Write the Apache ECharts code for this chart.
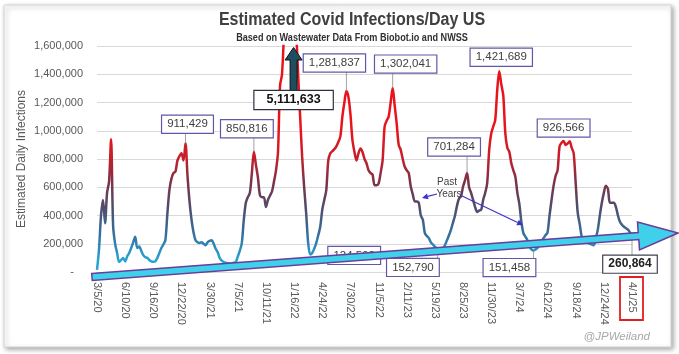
<!DOCTYPE html>
<html>
<head>
<meta charset="utf-8">
<script src="https://cdn.jsdelivr.net/npm/echarts@6/dist/echarts.min.js"></script>
<style>
  html, body { margin: 0; padding: 0; background: #fff; }
  #chart { width: 679px; height: 354px; }
</style>
</head>
<body>
<div id="chart"></div>
<script>
// x tick labels, one every 14 weeks (3/5/20 ... 4/1/25)
const tickLabels = ['3/5/20', '6/10/20', '9/16/20', '12/22/20', '3/30/21', '7/5/21', '10/11/21',
  '1/16/22', '4/24/22', '7/30/22', '11/5/22', '2/11/23', '5/19/23', '8/25/23', '11/30/23',
  '3/7/24', '6/12/24', '9/18/24', '12/24/24', '4/1/25']

// weekly estimated infections, in thousands (week 0 = 3/5/20)
const infectionsK = [
  15, 160, 400, 510, 345, 560, 640, 940, 330, 200, 135, 70, 85, 100,
  75, 110, 135, 170, 210, 250, 170, 180, 150, 120, 105, 100, 85, 75,
  72, 75, 100, 135, 170, 195, 225, 415, 580, 660, 700, 710, 790, 820,
  840, 790, 911.429, 680, 500, 370, 280, 225, 210, 205, 210, 200, 190, 210,
  220, 225, 200, 165, 140, 100, 80, 70, 65, 62, 60, 62, 66, 70,
  110, 150, 205, 370, 490, 530, 560, 700, 850.816, 760, 670, 545, 530, 530,
  460, 510, 540, 570, 640, 720, 850, 1320, 1400, 1750, 2800, 4300, 5111.633, 4000,
  2600, 1750, 1400, 1100, 815, 600, 415, 205, 124.592, 135, 165, 205, 260, 320,
  440, 510, 580, 790, 840, 855, 870, 890, 920, 960, 1100, 1200, 1281.837, 1240,
  1120, 935, 850, 790, 840, 875, 850, 800, 770, 720, 700, 690, 615, 615,
  625, 700, 790, 1030, 1070, 1100, 1200, 1302.041, 1180, 1050, 900, 865, 800, 745,
  720, 700, 605, 550, 500, 500, 490, 400, 370, 275, 255, 240, 210, 195,
  180, 165, 152.79, 158, 165, 190, 225, 260, 300, 350, 400, 470, 520, 535,
  605, 650, 701.284, 600, 560, 510, 460, 425, 435, 440, 510, 560, 630, 865,
  980, 1030, 1075, 1290, 1421.689, 1330, 1250, 985, 880, 850, 770, 720, 675, 560,
  480, 355, 275, 250, 225, 180, 160, 151.458, 160, 170, 195, 215, 240, 260,
  280, 400, 510, 610, 680, 720, 890, 915, 926.566, 900, 910, 925, 880, 840,
  630, 420, 340, 250, 225, 210, 205, 200, 195, 190, 240, 300, 400, 490,
  560, 610, 590, 490, 490, 490, 460, 400, 355, 335, 320, 310, 300, 280,
  260.864
]

// weeks that get a value callout
const calloutWeeks = [44, 78, 124, 147, 184, 200, 232, 106, 170, 217, 266]
const bigPeakWeek = 96

const FONT = '"Liberation Sans", Arial, sans-serif'

const chart = echarts.init(document.getElementById('chart'))

const fmt = v => Math.round(v).toLocaleString('en-US')

chart.setOption({
  animation: false,
  grid: { left: 97, right: 47, top: 46, bottom: 82 },
  visualMap: {
    show: false,
    type: 'continuous',
    seriesIndex: 0,
    dimension: 1,
    min: 80000,
    max: 1000000,
    inRange: { color: ['#26a4d6', '#3570a0', '#4e4e6e', '#7a3348', '#c81e2a', '#e8141c'] }
  },
  xAxis: {
    type: 'value',
    min: 0,
    max: 266,
    interval: 14,
    axisLine: { show: true, lineStyle: { color: '#d9d9d9' } },
    axisTick: { show: false },
    splitLine: { show: false },
    axisLabel: {
      rotate: -90,
      margin: 10,
      color: '#595959',
      fontSize: 11,
      fontFamily: FONT,
      showMinLabel: true,
      showMaxLabel: true,
      formatter: v => tickLabels[Math.round(v / 14)] || ''
    }
  },
  yAxis: {
    type: 'value',
    min: 0,
    max: 1600000,
    interval: 200000,
    name: 'Estimated Daily Infections',
    nameLocation: 'middle',
    nameGap: 69,
    nameMoveOverlap: false,
    nameTextStyle: { color: '#595959', fontSize: 12, fontFamily: FONT },
    axisLine: { show: false },
    axisTick: { show: false },
    splitLine: { lineStyle: { color: '#d9d9d9' } },
    axisLabel: {
      margin: 14,
      color: '#595959',
      fontSize: 11,
      fontFamily: FONT,
      formatter: v => v === 0 ? '-   ' : fmt(v)
    }
  },
  series: [{
    type: 'line',
    data: infectionsK.map((v, i) => [i, v * 1000]),
    smooth: 0.3,
    symbol: 'none',
    clip: true,
    lineStyle: { width: 2.5 }
  }]
})

// ---- annotations ----
const g = []

// frame with shadow
g.push({
  type: 'rect', z: -100,
  shape: { x: 4, y: 5, width: 667, height: 342 },
  style: { fill: '#fff', stroke: '#d4d4d4', lineWidth: 1, shadowBlur: 5, shadowOffsetX: 2, shadowOffsetY: 2, shadowColor: 'rgba(0,0,0,0.35)' }
})

g.push({
  type: 'text', z: 20, x: 352, y: 20, scaleX: 0.89,
  style: { text: 'Estimated Covid Infections/Day US', font: 'bold 18px ' + FONT, fill: '#404040', align: 'center', textAlign: 'center', verticalAlign: 'middle', textVerticalAlign: 'middle' }
})
g.push({
  type: 'text', z: 20, x: 352, y: 38, scaleX: 0.91,
  style: { text: 'Based on Wastewater Data From Biobot.io and NWSS', font: 'bold 10px ' + FONT, fill: '#303030', align: 'center', textAlign: 'center', verticalAlign: 'middle', textVerticalAlign: 'middle' }
})

// offsets of the callout boxes from their points
const boxOffset = {
  44: [2, -19], 78: [-7, -23], 124: [-12, -28], 147: [13, -24], 184: [-13, -26],
  200: [2, -14], 232: [0, -13], 106: [44, 1], 170: [-26, 17], 217: [-24, 17], 266: [-2, 29]
}
const noLeader = { 200: true, 232: true, 106: true }

calloutWeeks.forEach(w => {
  const v = infectionsK[w] * 1000
  const p = chart.convertToPixel({ gridIndex: 0 }, [w, v])
  const off = boxOffset[w]
  const cx = p[0] + off[0]
  const cy = p[1] + off[1]
  const text = fmt(v)
  const bold = w === 266
  const hw = text.length * 3.2 + 5
  if (!noLeader[w]) {
    const sx = Math.min(Math.max(p[0], cx - hw + 3), cx + hw - 3)
    const sy = off[1] < 0 ? cy + 9 : cy - 9
    g.push({
      type: 'line', z: 19,
      shape: { x1: sx, y1: sy, x2: p[0], y2: p[1] },
      style: { stroke: '#8a8a8a', lineWidth: 0.8 }
    })
  }
  g.push({
    type: 'text', z: 20, x: cx, y: cy,
    style: {
      text, font: (bold ? 'bold 12px ' : '11.5px ') + FONT, fill: bold ? '#202020' : '#404040',
      align: 'center', textAlign: 'center', verticalAlign: 'middle', textVerticalAlign: 'middle',
      backgroundColor: '#fff', borderColor: bold ? '#404050' : '#5f58a6', borderWidth: 1.2,
      padding: [3, 5, 2, 5]
    }
  })
})

// the off-scale peak: arrow + box
const pk = chart.convertToPixel({ gridIndex: 0 }, [bigPeakWeek, 0])
const ax = pk[0] + 3.5
g.push({
  type: 'polygon', z: 21,
  shape: { points: [[ax - 3.5, 92], [ax - 3.5, 60], [ax - 8.5, 60], [ax, 47.5], [ax + 8.5, 60], [ax + 3.5, 60], [ax + 3.5, 92]] },
  style: { fill: '#1e4f60', stroke: '#111', lineWidth: 1 }
})
g.push({
  type: 'text', z: 22, x: ax, y: 100,
  style: {
    text: fmt(infectionsK[bigPeakWeek] * 1000), font: 'bold 12.5px ' + FONT, fill: '#111',
    align: 'center', textAlign: 'center', verticalAlign: 'middle', textVerticalAlign: 'middle',
    backgroundColor: '#fff', borderColor: '#303040', borderWidth: 1.2, padding: [3, 12, 2, 12]
  }
})

// long trend arrow
g.push({
  type: 'polygon', z: 30,
  shape: { points: [[91.7, 273.5], [638.2, 232.5], [637.5, 222], [678, 233], [639.5, 250], [638.8, 239.5], [92.3, 280.5]] },
  style: { fill: '#3fd0ea', stroke: '#6a3c9c', lineWidth: 1.5 }
})

// "Past Years" note with two arrows
g.push({ type: 'text', z: 25, x: 447, y: 182, style: { text: 'Past', font: '10px ' + FONT, fill: '#404040', align: 'center', textAlign: 'center', verticalAlign: 'middle', textVerticalAlign: 'middle' } })
g.push({ type: 'text', z: 25, x: 449, y: 194, style: { text: 'Years', font: '10px ' + FONT, fill: '#404040', align: 'center', textAlign: 'center', verticalAlign: 'middle', textVerticalAlign: 'middle' } })

function arrow(x1, y1, x2, y2, color) {
  const a = Math.atan2(y2 - y1, x2 - x1)
  const L = 6, W = 3
  const bx = x2 - L * Math.cos(a), by = y2 - L * Math.sin(a)
  g.push({ type: 'line', z: 25, shape: { x1, y1, x2: bx, y2: by }, style: { stroke: color, lineWidth: 1.2 } })
  g.push({
    type: 'polygon', z: 25,
    shape: { points: [[x2, y2], [bx - W * Math.sin(a), by + W * Math.cos(a)], [bx + W * Math.sin(a), by - W * Math.cos(a)]] },
    style: { fill: color }
  })
}
arrow(437, 194, 422, 198, '#3b32c8')
arrow(460, 195, 523, 225, '#3b32c8')

// red box round the last date
g.push({
  type: 'rect', z: 25,
  shape: { x: 620, y: 277, width: 23, height: 43 },
  style: { fill: 'none', stroke: '#e02020', lineWidth: 1.8 }
})

g.push({
  type: 'text', z: 25, x: 650, y: 337,
  style: { text: '@JPWeiland', font: 'italic 11.5px ' + FONT, fill: '#a8a8a8', align: 'right', textAlign: 'right', verticalAlign: 'middle', textVerticalAlign: 'middle' }
})

chart.setOption({ graphic: g })
</script>
</body>
</html>
